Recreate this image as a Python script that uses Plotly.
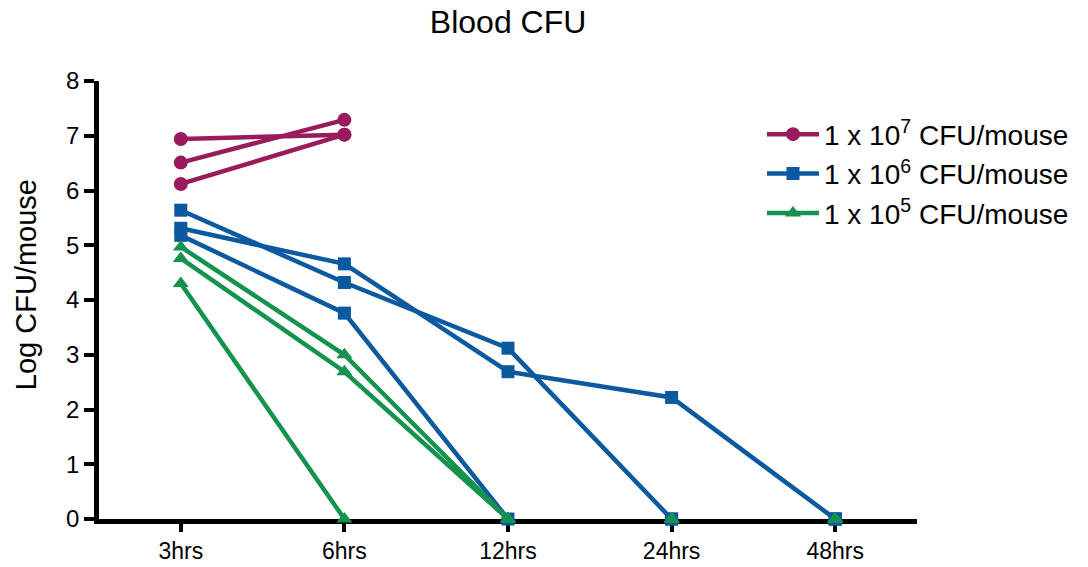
import plotly.graph_objects as go

times = ["3hrs", "6hrs", "12hrs", "24hrs", "48hrs"]

# Log CFU per mouse, one list per animal (None = no sample taken)
dose_1e7 = [
    [6.94, 7.02, None, None, None],
    [6.51, 7.29, None, None, None],
    [6.12, 7.02, None, None, None],
]
dose_1e6 = [
    [5.64, 4.32, 3.12, 0, 0],
    [5.31, 4.66, 2.69, 2.22, 0],
    [5.18, 3.76, 0, 0, 0],
]
dose_1e5 = [
    [4.97, 3.00, 0, 0, 0],
    [4.76, 2.69, 0, 0, 0],
    [4.30, 0, 0, 0, 0],
]

groups = [
    ("1 x 10<sup>7</sup> CFU/mouse", dose_1e7, "#9a1b5b", "circle", 14),
    ("1 x 10<sup>6</sup> CFU/mouse", dose_1e6, "#0b5aa0", "square", 13),
    ("1 x 10<sup>5</sup> CFU/mouse", dose_1e5, "#16924f", "triangle-up", 14),
]

FONT = "Liberation Sans, Arial, sans-serif"

fig = go.Figure()

for gi, (name, mice, color, symbol, msize) in enumerate(groups):
    for mi, vals in enumerate(mice):
        # connect points until the count first reaches zero
        cut = len(vals)
        for i, v in enumerate(vals):
            if v is not None and v == 0:
                cut = i + 1
                break
        line_y = vals[:cut] + [None] * (len(vals) - cut)
        rest_y = [None] * cut + vals[cut:]
        fig.add_trace(go.Scatter(
            x=times, y=line_y, mode="lines+markers", name=name,
            legendgroup=name, showlegend=(mi == 0),
            line=dict(color=color, width=4.5),
            marker=dict(symbol=symbol, size=msize, color=color),
            cliponaxis=False, connectgaps=False,
        ))
        if any(v is not None for v in rest_y):
            fig.add_trace(go.Scatter(
                x=times, y=rest_y, mode="markers", name=name,
                legendgroup=name, showlegend=False,
                marker=dict(symbol=symbol, size=msize, color=color),
                cliponaxis=False,
            ))

fig.update_layout(
    width=1088, height=567,
    margin=dict(l=99, r=171, t=81, b=48),
    paper_bgcolor="white", plot_bgcolor="white",
    font=dict(family=FONT, color="black"),
    title=dict(text="Blood CFU", x=0.467, xref="container", xanchor="center",
               y=1 - 22 / 567, yanchor="middle", font=dict(size=32)),
    showlegend=True,
    legend=dict(x=0.8105, y=0.935, xanchor="left", yanchor="top",
                font=dict(size=28), tracegroupgap=0, itemwidth=52,
                bgcolor="rgba(0,0,0,0)"),
    xaxis=dict(type="category", categoryorder="array", categoryarray=times,
               range=[-0.5, 4.5], showline=True, linewidth=4.5, linecolor="black",
               ticks="outside", ticklen=8, tickwidth=3.5, tickcolor="black",
               showgrid=False, zeroline=False, tickfont=dict(size=23),
               layer="below traces", automargin=False),
    yaxis=dict(range=[0, 8], dtick=1, showline=True, linewidth=4.5, linecolor="black",
               ticks="outside", ticklen=10, tickwidth=3.5, tickcolor="black",
               showgrid=False, zeroline=False, tickfont=dict(size=24),
               layer="below traces", automargin=False),
    annotations=[dict(text="Log CFU/mouse", textangle=-90, xref="paper", yref="paper",
                      x=-0.0892, y=0.534, xanchor="center", yanchor="middle",
                      showarrow=False, font=dict(size=29))],
)

fig.write_html("out.html")
